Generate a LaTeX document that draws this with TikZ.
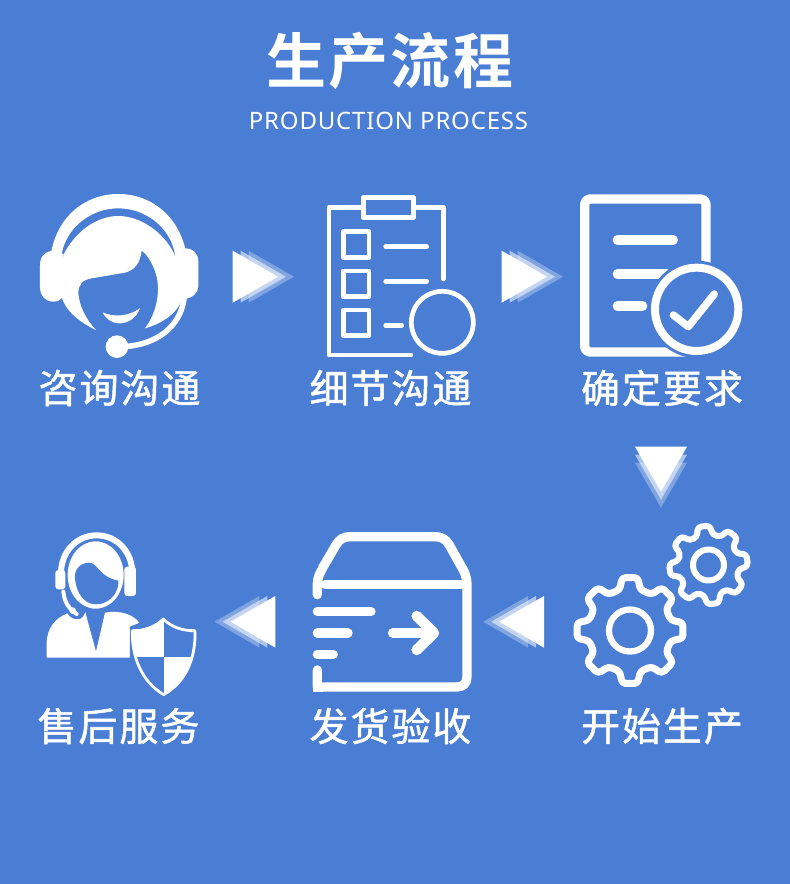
\documentclass[tikz,border=0pt]{standalone}
\usepackage{fontspec}
\newfontfamily\labfont[LetterSpace=5,FakeBold=1.3]{Noto Sans CJK SC}
\newfontfamily\titlefont[LetterSpace=3.5,BoldFont={Noto Sans CJK SC Bold}]{Noto Sans CJK SC}
\newfontfamily\subfont[LetterSpace=3.4]{Noto Sans}
\definecolor{bg}{HTML}{4A7DD4}
\tikzset{
 lab/.style={text=white,inner sep=0pt,font=\labfont\fontsize{39}{39}\selectfont},
 ln/.style={draw=white,line cap=round,line join=round},
}
\newcommand{\triarrow}[8]{% ax ay bx by cx cy dx dy
 \fill[white,opacity=.3] (#1+2*#7,#2+2*#8)--(#3+2*#7,#4+2*#8)--(#5+2*#7,#6+2*#8)--cycle;
 \fill[white,opacity=.55] (#1+#7,#2+#8)--(#3+#7,#4+#8)--(#5+#7,#6+#8)--cycle;
 \fill[white] (#1,#2)--(#3,#4)--(#5,#6)--cycle;}
\newcommand{\gearshape}[7]{% cx cy router rroot rotation lw halfwidth
 \draw[ln,line width=#6,rounded corners=3.5pt]
  ({#1+#4*cos(#5-#7*85/#3)},{#2+#4*sin(#5-#7*85/#3)})
  -- ({#1+#3*cos(#5-#7*50/#3)},{#2+#3*sin(#5-#7*50/#3)})
  -- ({#1+#3*cos(#5+#7*50/#3)},{#2+#3*sin(#5+#7*50/#3)})
  -- ({#1+#4*cos(#5+#7*85/#3)},{#2+#4*sin(#5+#7*85/#3)})
  \foreach \k in {45,90,...,315}{
   -- ({#1+#4*cos(\k+#5-#7*85/#3)},{#2+#4*sin(\k+#5-#7*85/#3)})
   -- ({#1+#3*cos(\k+#5-#7*50/#3)},{#2+#3*sin(\k+#5-#7*50/#3)})
   -- ({#1+#3*cos(\k+#5+#7*50/#3)},{#2+#3*sin(\k+#5+#7*50/#3)})
   -- ({#1+#4*cos(\k+#5+#7*85/#3)},{#2+#4*sin(\k+#5+#7*85/#3)})
  } -- cycle;}
\begin{document}
\begin{tikzpicture}[x=1pt,y=-1pt]
\fill[bg] (0,0) rectangle (790,884);
\useasboundingbox (0,0) rectangle (790,884);
% titles
\node[text=white,inner sep=0pt,font=\titlefont\bfseries\fontsize{60}{60}\selectfont] (title) at (390,61) {生产流程};
\node[text=white,inner sep=0pt,font=\subfont\fontsize{24}{24}\selectfont] (sub) at (388.5,121) {PRODUCTION PROCESS};
% labels
\node[lab] (l1) at (119.5,388) {咨询沟通};
\node[lab] (l2) at (390.5,388) {细节沟通};
\node[lab] (l3) at (662,388) {确定要求};
\node[lab] (l4) at (662,726) {开始生产};
\node[lab] (l5) at (390.5,726) {发货验收};
\node[lab] (l6) at (118.5,726) {售后服务};
% arrows
\triarrow{232.7}{250.7}{232.7}{302.7}{278}{276.7}{8}{0}
\triarrow{501.7}{250.7}{501.7}{302.7}{547}{276.7}{8}{0}
\triarrow{635}{446.7}{687}{446.7}{661}{491.7}{0}{8}
\triarrow{544}{596}{544}{647.7}{499.3}{621.7}{-8}{0}
\triarrow{275.3}{596}{275.3}{647.7}{230.7}{621.7}{-8}{0}
% icon 1: headset
\begin{scope}[shift={(20,180)},x=0.3333pt,y=-0.3333pt]
\fill[white] (92,225) .. controls (110,110) and (195,42) .. (295,42) .. controls (395,42) and (480,110) .. (500,225) -- (465,222) .. controls (450,140) and (375,85) .. (295,85) .. controls (215,85) and (140,140) .. (125,222) -- cycle;
\fill[white] (60,255) .. controls (60,225) and (80,212) .. (105,212) -- (130,222) -- (130,345) .. controls (125,362) and (110,365) .. (100,365) .. controls (75,365) and (60,345) .. (60,325) -- cycle;
\fill[white] (535,245) .. controls (535,220) and (520,205) .. (495,205) -- (465,215) -- (465,345) -- (490,358) .. controls (515,355) and (535,340) .. (535,320) -- cycle;
\fill[white] (130,225) .. controls (165,155) and (230,108) .. (295,108) .. controls (360,108) and (430,155) .. (463,222) -- (490,345) .. controls (480,395) and (430,430) .. (375,445) .. controls (412,395) and (420,335) .. (410,290) .. controls (403,262) and (385,225) .. (365,212) .. controls (360,250) and (345,270) .. (315,278) -- (215,295) .. controls (185,300) and (175,315) .. (175,340) .. controls (178,375) and (195,415) .. (228,450) .. controls (175,425) and (135,390) .. (125,350) -- cycle;
\fill[white] (248,397) .. controls (280,412) and (325,410) .. (360,385) .. controls (350,415) and (320,432) .. (295,430) .. controls (275,428) and (258,418) .. (248,397) -- cycle;
\draw[ln,line width=5.5pt] (492,358) .. controls (480,440) and (410,495) .. (310,500);
\fill[white] (291,500) circle (34);
\end{scope}
% icon 2: clipboard
\begin{scope}[shift={(300,180)},x=0.3333pt,y=-0.3333pt]
\tikzset{cl/.style={ln,line width=4.7pt}}
\draw[cl] (190,52) rectangle (340,113);
\draw[cl] (190,82) -- (87,82) -- (87,525) -- (333,525);
\draw[cl] (340,82) -- (430,82) -- (430,297);
\draw[cl] (130,155) rectangle (207,232);
\draw[cl] (130,273) rectangle (207,350);
\draw[cl] (130,390) rectangle (207,467);
\draw[cl] (257,200) -- (380,200);
\draw[cl] (257,304) -- (380,304);
\draw[cl] (257,436) -- (305,436);
\draw[cl] (427,427) circle (93);
\end{scope}
% icon 3: document
\begin{scope}[shift={(560,180)},x=0.3333pt,y=-0.3333pt]
\draw[ln,line width=9.3pt,rounded corners=5pt] (74,57) rectangle (438,516);
\draw[ln,line width=9.3pt] (172,180) -- (340,180);
\draw[ln,line width=9.3pt] (172,282) -- (320,282);
\draw[ln,line width=9.3pt] (172,378) -- (248,378);
\fill[bg] (410,388) circle (146);
\draw[ln,line width=8pt] (410,388) circle (125);
\draw[ln,line width=7.5pt] (340,405) -- (385,440) -- (463,342);
\end{scope}
% icon 4: gears
\gearshape{630}{630.5}{53.5}{42}{0}{7pt}{9}
\draw[ln,line width=6.3pt] (630,630.5) circle (21);
\gearshape{708.5}{565}{39.5}{30.5}{-7}{6pt}{7}
\draw[ln,line width=6pt] (708.5,565) circle (15.5);
% icon 5: box
\begin{scope}[shift={(210,520)},x=0.3333pt,y=-0.3333pt]
\tikzset{bx/.style={ln,line width=9.3pt}}
\draw[bx] (322,224) -- (322,195) .. controls (322,170) and (330,160) .. (340,140) -- (378,75) .. controls (388,58) and (400,50) .. (420,50) -- (675,50) .. controls (695,50) and (708,58) .. (718,75) -- (760,150) .. controls (768,165) and (771,180) .. (771,195) -- (771,470) .. controls (771,490) and (760,501) .. (740,501) -- (322,501) -- (322,450);
\draw[bx] (345,193) -- (755,193);
\fill[white] (309,490) rectangle (340,515);
\draw[bx] (322,275) -- (483,275);
\draw[bx] (322,339) -- (414,339);
\draw[bx] (322,403) -- (370,403);
\draw[bx] (548,339) -- (665,339);
\draw[ln,line width=10.5pt] (620,288) -- (672,339) -- (620,390);
\end{scope}
% icon 6: person
\begin{scope}[shift={(30,520)},x=0.3333pt,y=-0.3333pt]
\draw[ln,line width=6pt,line cap=butt] (93,160) .. controls (93,95) and (140,46) .. (200,46) .. controls (260,46) and (307,95) .. (307,160);
\fill[white,rounded corners=3pt] (76,150) rectangle (106,208);
\fill[white,rounded corners=3pt] (283,140) rectangle (318,228);
\fill[white] (197,165) ellipse (84 and 101);
\fill[bg] (135,175) .. controls (132,150) and (150,128) .. (178,128) .. controls (205,130) and (205,170) .. (265,182) .. controls (268,215) and (240,253) .. (198,253) .. controls (160,253) and (138,215) .. (135,175) -- cycle;
\draw[ln,line width=4pt] (100,215) .. controls (103,245) and (115,265) .. (140,282);
\fill[white] (50,413) -- (50,372) .. controls (50,325) and (75,295) .. (112,280) .. controls (120,295) and (135,300) .. (150,297) .. controls (160,292) and (162,285) .. (166,277) -- (198,395) -- (225,278) .. controls (265,270) and (320,280) .. (338,325) -- (305,330) -- (305,413) -- cycle;
\fill[white] (128,272) circle (10);
\fill[bg] (400,280) -- (300,320) -- (300,420) -- (400,535) -- (505,420) -- (505,320) -- cycle;
\path[save path=\shieldp] (400,297) .. controls (425,322) and (460,333) .. (495,332) .. controls (498,410) and (470,485) .. (401,524) .. controls (335,485) and (305,410) .. (307,332) .. controls (340,333) and (375,322) .. (400,297) -- cycle;
\begin{scope}
\clip[use path=\shieldp];
\fill[white] (300,290) rectangle (402,410);
\fill[white] (402,410) rectangle (500,530);
\end{scope}
\draw[ln,line width=2.8pt,use path=\shieldp];
\end{scope}
\end{tikzpicture}
\end{document}
